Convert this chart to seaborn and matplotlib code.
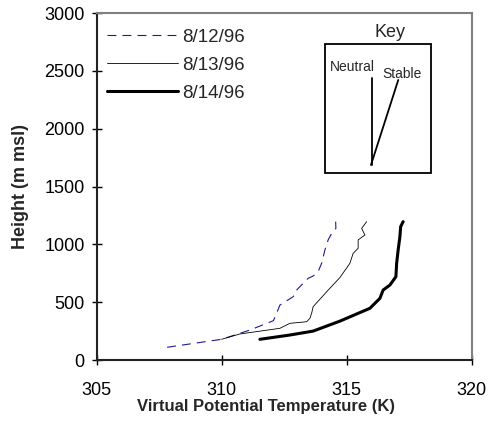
import numpy as np
import pandas as pd
import matplotlib
matplotlib.use("Agg")
import matplotlib.pyplot as plt
import seaborn as sns
from matplotlib.patches import Rectangle
from matplotlib.lines import Line2D

# virtual potential temperature profiles (K) vs height (m msl)
temp_0812 = [307.82, 310.0, 311.13, 312.07, 312.2, 312.33, 312.86, 313.0, 313.13,
             313.46, 313.66, 313.86, 314.0, 314.13, 314.26, 314.4, 314.57, 314.56]
hgt_0812 = [110, 179, 259, 340, 404, 475, 547, 605, 634,
            706, 726, 764, 836, 951, 1038, 1095, 1138, 1196]

temp_0813 = [310.0, 310.73, 312.33, 312.73, 313.4, 313.53, 313.6, 313.66, 314.2,
             314.73, 315.13, 315.26, 315.46, 315.46, 315.73, 315.6, 315.8]
hgt_0813 = [179, 225, 274, 317, 331, 360, 404, 461, 590,
            713, 836, 922, 966, 1038, 1081, 1138, 1196]

temp_0814 = [311.53, 312.73, 313.66, 314.73, 315.93, 316.33, 316.46, 316.73, 316.97,
             317.0, 317.06, 317.13, 317.16, 317.26]
hgt_0814 = [179, 216, 250, 336, 447, 533, 605, 648, 720,
            836, 951, 1066, 1153, 1196]

dates = ["8/12/96", "8/13/96", "8/14/96"]
x_ticks = [305, 310, 315, 320]
y_ticks = [0, 500, 1000, 1500, 2000, 2500, 3000]

sns.set_theme(style="white")
plt.rcParams["font.family"] = ["Liberation Sans", "DejaVu Sans"]

df = pd.concat([
    pd.DataFrame({"temp": temp_0812, "height": hgt_0812, "date": dates[0]}),
    pd.DataFrame({"temp": temp_0813, "height": hgt_0813, "date": dates[1]}),
    pd.DataFrame({"temp": temp_0814, "height": hgt_0814, "date": dates[2]}),
])

fig = plt.figure(figsize=(4.88, 4.34), dpi=100)
ax = fig.add_axes([0.198, 0.1705, 0.7685, 0.7995])

colors = ["#1c1c8c", "black", "black"]
widths = [0.8, 0.6, 2.2]
dash = (8, 5.5)
handles = []
for date, c, lw in zip(dates, colors, widths):
    sub = df[df["date"] == date]
    sns.lineplot(data=sub, x="temp", y="height", sort=False, estimator=None,
                 color=c, lw=lw, ax=ax, legend=False)
    ln = ax.get_lines()[-1]
    h = Line2D([], [], color=c, lw=lw)
    if date == dates[0]:
        ln.set_dashes(dash)
        h.set_dashes(dash)
    handles.append(h)

ax.set_xlim(305, 320)
ax.set_ylim(0, 3000)
ax.set_xticks(x_ticks)
ax.set_yticks(y_ticks)
ax.tick_params(axis="both", direction="inout", length=7, width=1, colors="black",
               labelsize=13, bottom=True, left=True)
ax.tick_params(axis="x", pad=12)
ax.tick_params(axis="y", pad=5)

for side in ["left", "bottom"]:
    ax.spines[side].set_color("#222222")
    ax.spines[side].set_linewidth(1.5)
for side in ["top", "right"]:
    ax.spines[side].set_color("#808080")
    ax.spines[side].set_linewidth(1.5)

ax.set_xlabel("Virtual Potential Temperature (K)", fontsize=12, fontweight="bold")
ax.set_ylabel("Height (m msl)", fontsize=13, fontweight="bold")
ax.xaxis.set_label_coords(0.451, -0.112)
ax.yaxis.set_label_coords(-0.18, 0.5)

ax.legend(handles, dates, loc="upper left", bbox_to_anchor=(0.027, 0.955),
          frameon=False, fontsize=13.5, handlelength=3.8, handletextpad=0.22,
          labelspacing=0.58, borderpad=0, borderaxespad=0)

# key inset
ax.add_patch(Rectangle((0.6088, 0.5398), 0.2819, 0.3709, transform=ax.transAxes,
                       fill=False, lw=1.3, ec="black"))
ax.text(0.782, 0.944, "Key", transform=ax.transAxes, ha="center", va="center",
        fontsize=13)
ax.text(0.683, 0.845, "Neutral", transform=ax.transAxes, ha="center", va="center",
        fontsize=10)
ax.text(0.814, 0.824, "Stable", transform=ax.transAxes, ha="center", va="center",
        fontsize=10)
ax.plot([0.7333, 0.7333], [0.562, 0.8118], transform=ax.transAxes, color="black", lw=1.3)
ax.plot([0.7315, 0.8043], [0.562, 0.807], transform=ax.transAxes, color="black", lw=1.3)

fig.savefig("out.png", dpi=100)
